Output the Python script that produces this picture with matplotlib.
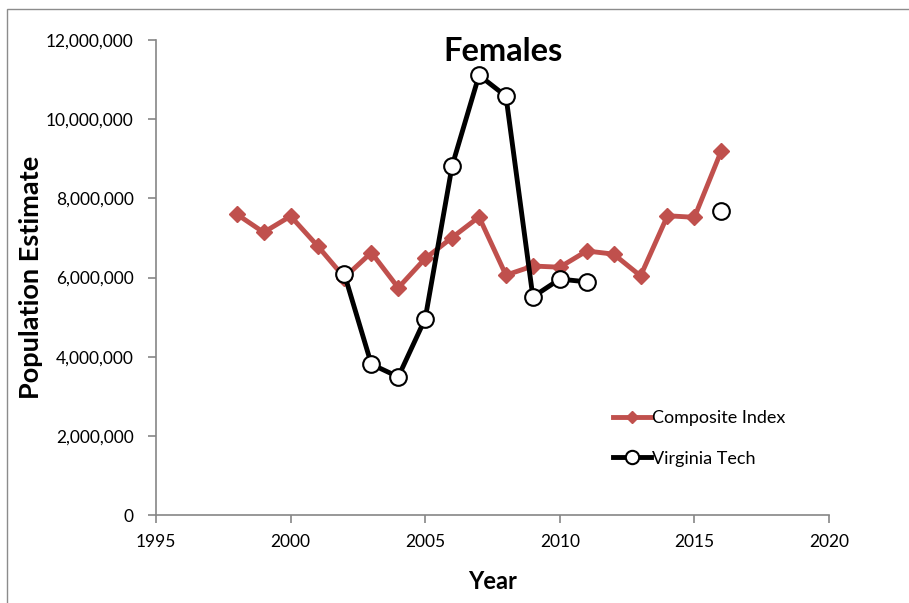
import matplotlib
matplotlib.use('Agg')
import matplotlib.pyplot as plt
from matplotlib.patches import Rectangle
from matplotlib.ticker import FuncFormatter
import numpy as np

plt.rcParams['font.family'] = ['Lato', 'DejaVu Sans']

# Composite index, 1998-2016
comp_years = [1998, 1999, 2000, 2001, 2002, 2003, 2004, 2005, 2006, 2007,
              2008, 2009, 2010, 2011, 2012, 2013, 2014, 2015, 2016]
comp_est = [7.60e6, 7.14e6, 7.55e6, 6.80e6, 6.00e6, 6.63e6, 5.74e6, 6.48e6,
            7.01e6, 7.53e6, 6.06e6, 6.29e6, 6.26e6, 6.67e6, 6.59e6, 6.04e6,
            7.56e6, 7.52e6, 9.20e6]

# Virginia Tech estimates (no survey 2012-2015)
vt_years = [2002, 2003, 2004, 2005, 2006, 2007, 2008, 2009, 2010, 2011,
            2012, 2013, 2014, 2015, 2016]
vt_est = [6.08e6, 3.81e6, 3.49e6, 4.96e6, 8.82e6, 11.11e6, 10.58e6, 5.51e6,
          5.96e6, 5.89e6, np.nan, np.nan, np.nan, np.nan, 7.68e6]

fig = plt.figure(figsize=(9.09, 6.03), dpi=100)
ax = fig.add_axes([0.1716, 0.1459, 0.7404, 0.7878])

# chart-area border
fig.patches.append(Rectangle((7/909, -0.01), 1.0, 1 - 9/603 + 0.01,
                             transform=fig.transFigure, fill=False,
                             edgecolor='#8c8c8c', linewidth=1.0))

ax.plot(comp_years, comp_est, color='#c0504d', lw=3.5, marker='D', ms=8,
        mec='#c0504d', mfc='#c0504d', label='Composite Index', zorder=2)
ax.plot(vt_years, vt_est, color='black', lw=3.5, marker='o', ms=12,
        mfc='white', mec='black', mew=1.5, label='Virginia Tech', zorder=3)

ax.set_xlim(1995, 2020)
ax.set_ylim(0, 12e6)
ax.set_xticks(range(1995, 2021, 5))
ax.set_yticks(np.arange(0, 12e6 + 1, 2e6))
ax.yaxis.set_major_formatter(FuncFormatter(lambda v, p: f'{int(v):,}'))

for s in ['top', 'right']:
    ax.spines[s].set_visible(False)
for s in ['left', 'bottom']:
    ax.spines[s].set_color('#868686')
    ax.spines[s].set_linewidth(1.2)
ax.tick_params(axis='both', colors='#868686', labelcolor='black',
               labelsize=12.5, length=6, width=1.2)
ax.tick_params(axis='y', pad=10)
ax.tick_params(axis='x', pad=8)

ax.text(0.515, 0.975, 'Females', transform=ax.transAxes, ha='center',
        va='center', fontsize=23.5, fontweight='bold')
ax.set_xlabel('Year', fontsize=17, fontweight='bold', labelpad=14)
ax.set_ylabel('Population Estimate', fontsize=19.5, fontweight='bold',
              labelpad=2)

ax.legend(loc='upper left', bbox_to_anchor=(0.655, 0.255), frameon=False,
          fontsize=13, handlelength=2.1, handletextpad=0.05,
          labelspacing=1.35, markerscale=0.8)

fig.savefig('out.png', dpi=100)
